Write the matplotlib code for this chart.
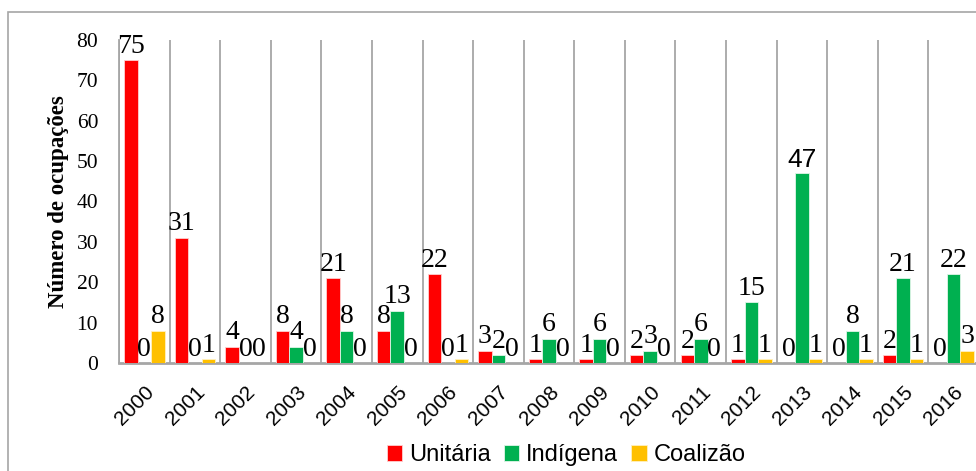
import numpy as np
import matplotlib
matplotlib.use("Agg")
import matplotlib.pyplot as plt
from matplotlib.patches import Rectangle

years = [str(y) for y in range(2000, 2017)]
unitaria = [75, 31, 4, 8, 21, 8, 22, 3, 1, 1, 2, 2, 1, 0, 0, 2, 0]
indigena = [0, 0, 0, 4, 8, 13, 0, 2, 6, 6, 3, 6, 15, 47, 8, 21, 22]
coalizao = [8, 1, 0, 0, 0, 0, 1, 0, 0, 0, 0, 0, 1, 1, 1, 1, 3]

series = [("Unitária", unitaria, "#FF0000"),
          ("Indígena", indigena, "#00B050"),
          ("Coalizão", coalizao, "#FFC000")]

serif = "Liberation Serif"
sans = "Liberation Sans"

fig = plt.figure(figsize=(9.76, 4.71), dpi=100)
# plot area: x from 119px to ~979px, y from 40px to 363px
ax = fig.add_axes([119 / 976, 108 / 471, 860 / 976, 323 / 471])

x = np.arange(len(years))
w = 0.267
edges = ["#FFD0D0", "#E0F5E8", "#FFF0C0"]
for i, (name, vals, col) in enumerate(series):
    bars = ax.bar(x + (i - 1) * w, vals, width=w, color=col,
                  edgecolor=edges[i], linewidth=0.6, label=name, zorder=3)
    texts = ax.bar_label(bars, padding=1, fontsize=20, family=serif, color="black")
    # the 2013 label is drawn in a sans face in the original
    for t in texts:
        if t.get_text() == "47":
            t.set_family(sans)
            t.set_fontsize(19)

ax.set_xlim(-0.5, len(years) - 0.5)
ax.set_ylim(0, 80)
ax.set_yticks(range(0, 81, 10))
for b in np.arange(-0.5, len(years), 1.0):
    ax.axvline(b, color="#A6A6A6", linewidth=1.3, zorder=1)

ax.set_xticks(x)
ax.set_xticklabels(years, rotation=45, ha="right", rotation_mode="anchor",
                   family=sans, fontsize=15)
ax.tick_params(axis="x", length=0, pad=14)
ax.tick_params(axis="y", length=0, pad=15, labelsize=15.5)
for lbl in ax.get_yticklabels():
    lbl.set_family(serif)

for s in ["top", "right"]:
    ax.spines[s].set_visible(False)
ax.spines["left"].set_color("#A6A6A6")
ax.spines["left"].set_linewidth(1.3)
ax.spines["bottom"].set_color("#A6A6A6")
ax.spines["bottom"].set_linewidth(2)

ax.set_ylabel("Número de ocupações", family=serif, fontsize=16.5,
              fontweight="bold", labelpad=5)

leg = fig.legend(loc="lower center", bbox_to_anchor=(0.58, -0.035), ncol=3,
                 frameon=False, prop={"family": sans, "size": 17},
                 handlelength=0.65, handleheight=0.65, handletextpad=0.3,
                 columnspacing=0.55)

# outer chart border
fig.patches.append(Rectangle((8 / 976, -0.05), 1.0, (471 - 12) / 471 + 0.05,
                             transform=fig.transFigure, fill=False,
                             edgecolor="#A6A6A6", linewidth=1.2))

fig.savefig("out.png", dpi=100)
